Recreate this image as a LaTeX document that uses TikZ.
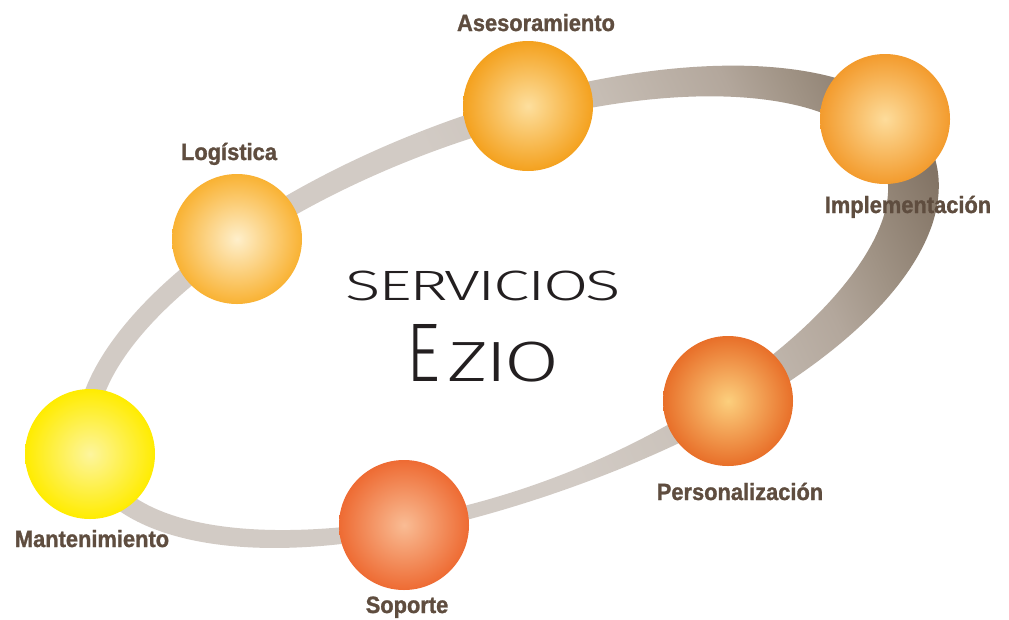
\documentclass[tikz,border=0pt]{standalone}
\usepackage{graphicx}
\usepackage{fontspec}
\setmainfont{Liberation Sans}
\newfontfamily\thinfont{Fira Sans Light}[LetterSpace=-4]
\newfontfamily\labfont{Liberation Sans Bold}[FakeStretch=0.93,FakeBold=1.2]
\definecolor{rc0}{HTML}{D2CBC5}
\definecolor{rc1}{HTML}{C6BDB4}
\definecolor{rc2}{HTML}{B3A79C}
\definecolor{rc3}{HTML}{A09385}
\definecolor{rc4}{HTML}{837465}
\definecolor{labc}{HTML}{5F4D3F}
\definecolor{ink}{HTML}{231F20}
\definecolor{asI}{HTML}{FDDF9E}\definecolor{asO}{HTML}{F4A11E}
\definecolor{imI}{HTML}{FDDC9B}\definecolor{imO}{HTML}{F39B2D}
\definecolor{loI}{HTML}{FEEFCB}\definecolor{loO}{HTML}{F9B233}
\definecolor{maI}{HTML}{FDF59E}\definecolor{maO}{HTML}{FFEC00}
\definecolor{soI}{HTML}{F9BC94}\definecolor{soO}{HTML}{EE6B33}
\definecolor{peI}{HTML}{FCCF7D}\definecolor{peO}{HTML}{E86F29}
\pgfdeclarehorizontalshading{ringsh}{100bp}{color(0bp)=(rc0); color(50bp)=(rc0); color(59bp)=(rc1); color(65bp)=(rc2); color(68bp)=(rc3); color(72.5bp)=(rc4); color(100bp)=(rc4)}
\begin{document}
\begin{tikzpicture}[x=1pt,y=-1pt,
  declare function={gg(\u)=exp(-min(\u*\u,20)); rw(\t)=21-8*gg((\t+95)/30)+31*gg((\t+15)/ifthenelse(\t>-15,65,45));},
  ball/.style={circle,minimum size=130pt,inner sep=0pt},
  lab/.style={font=\labfont\fontsize{23.5}{27}\selectfont,text=labc,inner sep=0pt,anchor=base},
  big/.style={inner sep=0pt,anchor=base west,text=ink}]
\fill[white] (0,0) rectangle (1009,619);
\useasboundingbox (0,0) rectangle (1009,619);
% ring
\begin{scope}
\clip plot[domain=-190:170,samples=361] ({500+(435.5+rw(\x)/2)*cos(\x)*0.9379-(183.5+rw(\x)/2)*sin(\x)*0.3469},{310-((435.5+rw(\x)/2)*cos(\x)*0.3469+(183.5+rw(\x)/2)*sin(\x)*0.9379)})
 -- plot[domain=170:-190,samples=361] ({500+(435.5-rw(\x)/2)*cos(\x)*0.9379-(183.5-rw(\x)/2)*sin(\x)*0.3469},{310-((435.5-rw(\x)/2)*cos(\x)*0.3469+(183.5-rw(\x)/2)*sin(\x)*0.9379)}) -- cycle;
\shade[shading=ringsh,shading angle=25] (0,-190) rectangle (1000,810);
\end{scope}
% balls
\node[ball,inner color=asI,outer color=asO] (ases) at (528,106) {};
\node[ball,inner color=imI,outer color=imO] (impl) at (885,119) {};
\node[ball,inner color=loI,outer color=loO] (logi) at (237,239) {};
\node[ball,inner color=maI,outer color=maO] (mant) at (90,454) {};
\node[ball,inner color=soI,outer color=soO] (sopo) at (404,525) {};
\node[ball,inner color=peI,outer color=peO] (pers) at (728,401) {};
% labels
\node[lab] (lases) at (536,31) {Asesoramiento};
\node[lab] (llogi) at (229,160) {Logística};
\node[lab] (limpl) at (908,213) {Implementación};
\node[lab] (lpers) at (740,500) {Personalización};
\node[lab] (lsopo) at (407,613) {Soporte};
\node[lab] (lmant) at (92,547) {Mantenimiento};
% title
\node[big] (serv) at (345,300) {\resizebox{276pt}{29.5pt}{\thinfont SERVICIOS}};
\node[big] (ezio) at (406,381) {\resizebox{34pt}{57pt}{\thinfont E}\hspace{7pt}\resizebox{112pt}{39.5pt}{\thinfont ZIO}};
\end{tikzpicture}
\end{document}
